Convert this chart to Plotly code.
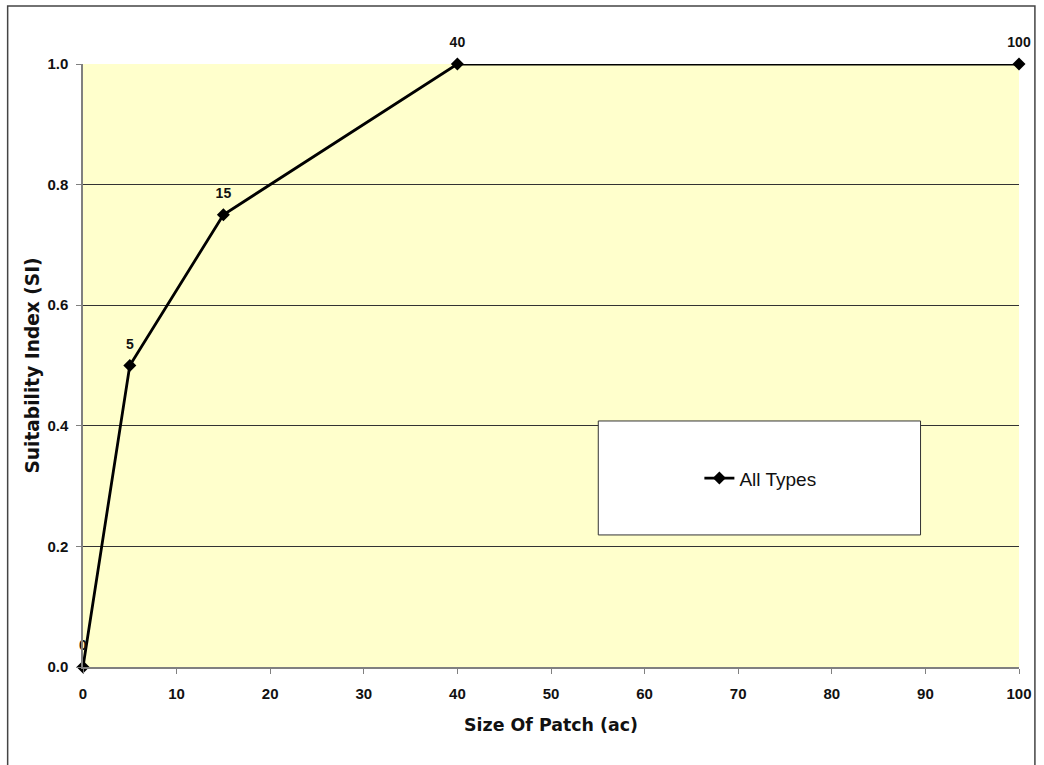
import plotly.graph_objects as go

patch_size = [0, 5, 15, 40, 100]
suitability = [0.0, 0.5, 0.75, 1.0, 1.0]
point_labels = ["0", "5", "15", "40", "100"]
series_name = "All Types"
x_ticks = [0, 10, 20, 30, 40, 50, 60, 70, 80, 90, 100]
y_ticks = [0.0, 0.2, 0.4, 0.6, 0.8, 1.0]

sans = "Liberation Sans, Arial, sans-serif"
wide = "DejaVu Sans, Verdana, sans-serif"

fig = go.Figure()
fig.add_trace(go.Scatter(
    x=patch_size, y=suitability, name=series_name,
    mode="lines+markers",
    line=dict(color="black", width=2.8),
    marker=dict(symbol="diamond", size=10, color="black"),
    cliponaxis=False,
))
fig.add_trace(go.Scatter(
    x=patch_size, y=suitability, name=series_name, showlegend=False,
    mode="markers+text", text=point_labels, textposition="top center",
    textfont=dict(family=sans, size=14, color="#111111", weight="bold"),
    marker=dict(size=20, opacity=0),
    cliponaxis=False, hoverinfo="skip",
))

fig.update_layout(
    width=1044, height=765,
    margin=dict(l=83, r=16, t=64, b=98),
    paper_bgcolor="white",
    plot_bgcolor="#FFFFCC",
    showlegend=True,
    legend=dict(x=0.7237, y=0.313, xanchor="center", yanchor="middle",
                bgcolor="rgba(0,0,0,0)", borderwidth=0,
                font=dict(family=sans, size=19, color="#111111"),
                itemwidth=30),
    xaxis=dict(range=[0, 100], tickvals=x_ticks,
               showgrid=False, zeroline=False, showline=True, linecolor="#808080", linewidth=1.5,
               ticks="outside", ticklen=5, tickcolor="#808080", ticklabelstandoff=7,
               tickfont=dict(family=sans, size=15, color="#111111", weight="bold"),
               title=dict(text="Size Of Patch (ac)", standoff=18,
                          font=dict(family=wide, size=17.4, color="#111111", weight="bold"))),
    yaxis=dict(range=[0, 1.0], tickvals=y_ticks, tickformat=".1f",
               showgrid=True, gridcolor="#333333", gridwidth=1,
               zeroline=False, showline=True, linecolor="#808080", linewidth=1.5,
               ticks="outside", ticklen=5, tickcolor="#808080", ticklabelstandoff=5,
               tickfont=dict(family=sans, size=15, color="#111111", weight="bold"),
               title=dict(text="Suitability Index (SI)", standoff=3,
                          font=dict(family=wide, size=18.6, color="#111111", weight="bold"))),
    shapes=[
        dict(type="rect", xref="paper", yref="paper", x0=0.5505, x1=0.8948, y0=0.219, y1=0.408,
             fillcolor="white", line=dict(color="#333333", width=1), layer="above"),
        dict(type="rect", xref="paper", yref="paper", x0=-0.0805, x1=1.017, y0=-0.171, y1=1.096,
             fillcolor="rgba(0,0,0,0)", line=dict(color="#444444", width=1.5), layer="below"),
    ],
)

fig.write_html("out.html", config={"displayModeBar": False},
               post_script="document.body.style.margin='0';document.body.style.overflow='hidden';")
